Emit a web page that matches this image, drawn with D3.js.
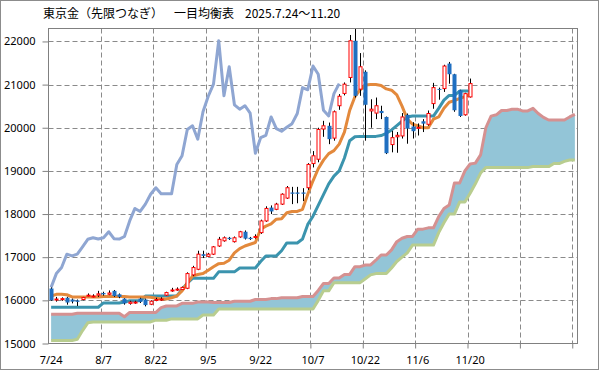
<!DOCTYPE html>
<html>
<head>
<meta charset="utf-8">
<script src="https://cdn.jsdelivr.net/npm/d3@7"></script>
<style>
  html, body { margin: 0; padding: 0; background: #fff; }
  svg { display: block; }
</style>
</head>
<body>
<svg id="chart" width="599" height="370"></svg>
<script>
// x labels, one every 10 trading days
const tickLabels = ['7/24', '8/7', '8/22', '9/5', '9/22', '10/7', '10/22', '11/6', '11/20'];

const opens = [
  16275, 16010, 16020, 16060, 16020, 16000, 16020, 16115, 16100, 16120,
  16170, 16140, 16220, 16140, 16040, 15930, 15940, 16040, 16020, 15910,
  16000, 16010, 16120, 16220, 16240, 16250, 16280, 16590, 16720, 17070,
  17020, 17070, 17260, 17380, 17450, 17360, 17470, 17590, 17450, 17460,
  17570, 17840, 18150, 18110, 18230, 18370, 18500, 18500, 18500, 18610,
  19170, 19270, 19970, 20045, 19760, 20510, 20795, 21165, 22016, 20895,
  21297, 20390, 20340, 20390, 20250, 19610, 19790, 19810, 20300, 20030,
  19990, 20150, 20080, 20560, 20900, 20907, 21487, 21240, 20870, 20300,
  20714
];
const highs = [
  16300, 16080, 16070, 16080, 16040, 16020, 16080, 16160, 16140, 16220,
  16200, 16230, 16240, 16160, 16050, 15990, 15990, 16060, 16040, 16000,
  16060, 16070, 16200, 16290, 16300, 16320, 16650, 16800, 17150, 17150,
  17100, 17260, 17470, 17480, 17470, 17480, 17610, 17620, 17470, 17530,
  17870, 18180, 18200, 18260, 18480, 18650, 18630, 18630, 18600, 19180,
  19460, 20000, 20160, 20120, 20400, 20780, 21050, 22150, 22300, 21730,
  21330, 20660, 20700, 20510, 20260, 19930, 19900, 20340, 20330, 20130,
  20100, 20200, 20400, 21040, 20930, 21460, 21525, 21250, 20880, 20810,
  21140
];
const lows = [
  15990, 15970, 15990, 15900, 15930, 15870, 16000, 16090, 16070, 16080,
  16110, 16120, 16080, 16050, 15900, 15900, 15920, 15940, 15860, 15890,
  15980, 15990, 16100, 16200, 16220, 16240, 16260, 16560, 16700, 16980,
  17000, 17050, 17240, 17360, 17400, 17340, 17450, 17410, 17400, 17430,
  17540, 17820, 18000, 18090, 18210, 18350, 18230, 18250, 18300, 18560,
  19080, 19200, 19790, 19620, 19700, 20415, 20750, 21050, 20700, 20740,
  19700, 20000, 20200, 20200, 19390, 19430, 19420, 19750, 19630, 19750,
  19820, 19900, 20050, 20440, 20650, 20830, 21020, 20370, 20250, 20280,
  20700
];
const closes = [
  16004, 16030, 16040, 15950, 15970, 15965, 16065, 16120, 16100, 16150,
  16140, 16170, 16100, 16080, 15930, 15960, 15960, 15965, 15890, 15980,
  16020, 16030, 16180, 16240, 16260, 16300, 16620, 16760, 17070, 17030,
  17070, 17240, 17415, 17450, 17420, 17450, 17590, 17430, 17420, 17480,
  17840, 18130, 18060, 18230, 18460, 18610, 18470, 18470, 18470, 19150,
  19350, 19960, 20045, 19735, 20370, 20730, 21010, 22016, 20740, 21413,
  20532, 20430, 20510, 20340, 19410, 19770, 19825, 20250, 19980, 19920,
  20010, 20095, 20330, 20930, 20880, 21430, 21240, 20405, 20273, 20790,
  21023
];

// 転換線
const tenkan = [
  16100, 16140, 16140, 16130, 16080, 16080, 16080, 16080, 16080, 16080,
  16090, 16090, 16090, 16090, 16090, 16080, 16080, 16080, 16080, 16070,
  16050, 16030, 16030, 16060, 16100, 16220, 16400, 16560, 16600, 16620,
  16700, 16780, 16850, 16860, 16930, 17100, 17200, 17260, 17300, 17340,
  17650, 17720, 17770, 17880, 17890, 18030, 18060, 18060, 18110, 18460,
  18770, 19050, 19250, 19400, 19470, 19620, 19900, 20400, 20720, 20880,
  20990, 21000, 21000, 20980, 20900, 20870, 20760, 20500, 20200, 20080,
  20050, 20000, 20000, 20200, 20250, 20450, 20590, 20630, 20680, 20720,
  20780
];
// 基準線
const kijun = [
  15840, 15840, 15840, 15840, 15840, 15840, 15840, 15840, 15840, 15840,
  15940, 15940, 15940, 15940, 15960, 15990, 15990, 15990, 16100, 16100,
  16100, 16100, 16100, 16100, 16100, 16250, 16400, 16510, 16510, 16510,
  16510, 16510, 16660, 16660, 16660, 16660, 16750, 16750, 16750, 16750,
  16900, 17030, 17030, 17030, 17150, 17330, 17330, 17330, 17420, 17760,
  17950, 18200, 18450, 18700, 18880, 19000, 19300, 19700, 19790, 19800,
  19800, 19800, 19800, 19820, 19870, 19950, 20050, 20150, 20250, 20270,
  20270, 20270, 20270, 20270, 20450, 20640, 20750, 20750, 20850, 20850,
  20850
];
// 先行スパン1
const senkouA = [
  15680, 15680, 15680, 15680, 15680, 15700, 15700, 15700, 15700, 15700,
  15700, 15700, 15700, 15700, 15620, 15720, 15720, 15720, 15720, 15720,
  15720, 15830, 15870, 15870, 15870, 15930, 15930, 15930, 15960, 15960,
  15960, 15950, 15950, 15950, 15950, 15980, 15980, 15980, 15980, 16020,
  16020, 16020, 16040, 16040, 16060, 16060, 16060, 16060, 16090, 16090,
  16090, 16230, 16390, 16390, 16520, 16520, 16600, 16600, 16780, 16780,
  16820, 16820, 16930, 17050, 17050, 17170, 17360, 17440, 17480, 17480,
  17650, 17650, 17680, 17680, 17940, 18130, 18210, 18720, 18720, 19000,
  19160, 19180, 19370, 20000, 20270, 20300, 20400, 20400, 20430, 20430,
  20390, 20390, 20450, 20330, 20240, 20180, 20180, 20180, 20180, 20250,
  20310
];
// 先行スパン2
const senkouB = [
  15070, 15070, 15070, 15070, 15070, 15100, 15300, 15480, 15500, 15500,
  15500, 15500, 15500, 15500, 15500, 15500, 15500, 15500, 15500, 15500,
  15540, 15540, 15540, 15570, 15570, 15570, 15570, 15570, 15570, 15660,
  15660, 15660, 15800, 15800, 15800, 15800, 15800, 15800, 15800, 15800,
  15800, 15800, 15800, 15800, 15800, 15800, 15800, 15800, 15800, 15800,
  15800, 16000, 16220, 16220, 16410, 16410, 16410, 16410, 16410, 16410,
  16500, 16590, 16620, 16620, 16620, 16750, 16900, 17000, 17100, 17280,
  17280, 17280, 17280, 17280, 17570, 17800, 18000, 18000, 18280, 18280,
  18480, 18700, 18950, 19076, 19076, 19076, 19076, 19076, 19076, 19076,
  19076, 19076, 19100, 19100, 19100, 19100, 19170, 19170, 19220, 19254,
  19254
];
// 遅行スパン: 終値を25本前にずらして描く
const chikouShift = 25;

const svg = d3.select('#chart');
const plotL = 48.5, plotR = 577.5, plotT = 28.5, plotB = 343.5;
const nSlots = senkouA.length;

const x = d3.scaleBand().domain(d3.range(nSlots)).range([plotL, plotR]);
const xEdge = d3.scaleLinear().domain([0, nSlots]).range([plotL, plotR]);
const cx = i => x(i) + x.bandwidth() / 2;
const y = d3.scaleLinear().domain([15000, 22300]).range([plotB, plotT]);

svg.append('rect')
  .attr('x', 0.5).attr('y', 0.5).attr('width', 598).attr('height', 369)
  .attr('fill', '#fff').attr('stroke', '#8c8c8c');

svg.append('defs').append('clipPath').attr('id', 'plot')
  .append('rect').attr('x', plotL).attr('y', plotT).attr('width', plotR - plotL).attr('height', plotB - plotT);

// grid
const grid = svg.append('g').attr('stroke', '#8a8a8a').attr('stroke-dasharray', '5,3');
grid.selectAll('line.h')
  .data(d3.range(16000, 22001, 1000))
  .join('line')
  .attr('class', 'h')
  .attr('x1', plotL).attr('x2', plotR)
  .attr('y1', d => Math.round(y(d)) + 0.5)
  .attr('y2', d => Math.round(y(d)) + 0.5);
grid.selectAll('line.v')
  .data(d3.range(10, nSlots, 10))
  .join('line')
  .attr('class', 'v')
  .attr('y1', plotT).attr('y2', plotB)
  .attr('x1', d => Math.round(xEdge(d)) + 0.5)
  .attr('x2', d => Math.round(xEdge(d)) + 0.5);

const plot = svg.append('g').attr('clip-path', 'url(#plot)');

// cloud
const cloud = senkouA.map((a, i) => ({ a, b: senkouB[i] }));
plot.append('path')
  .datum(cloud)
  .attr('fill', '#93c5d7')
  .attr('d', d3.area().x((d, i) => cx(i)).y0(d => y(d.b)).y1(d => y(d.a)));

const line = d3.line().x((d, i) => cx(i)).y(d => y(d));
const drawLine = (data, color) => plot.append('path')
  .datum(data)
  .attr('fill', 'none')
  .attr('stroke', color)
  .attr('stroke-width', 3)
  .attr('stroke-linejoin', 'round')
  .attr('d', line);

drawLine(senkouA, '#d59191');
drawLine(senkouB, '#b8cd8f');
drawLine(closes.slice(chikouShift), '#8fa6d2');
drawLine(kijun, '#3b94ae');
drawLine(tenkan, '#e3893c');

// candles
const candles = opens.map((o, i) => ({ i, o, h: highs[i], l: lows[i], c: closes[i] }));
const cg = plot.append('g').selectAll('g').data(candles).join('g');
cg.append('line')
  .attr('x1', d => Math.round(cx(d.i)) + 0.5)
  .attr('x2', d => Math.round(cx(d.i)) + 0.5)
  .attr('y1', d => y(d.h))
  .attr('y2', d => y(d.l))
  .attr('stroke', '#000');
cg.append('rect')
  .attr('x', d => d.c >= d.o ? Math.round(cx(d.i)) - 1 : Math.round(cx(d.i)) - 1.5)
  .attr('width', d => d.c >= d.o ? 3 : 4)
  .attr('y', d => Math.min(y(d.o), y(d.c)))
  .attr('height', d => Math.max(1, Math.abs(y(d.o) - y(d.c))))
  .attr('fill', d => d.c >= d.o ? '#fff' : '#1f6fc1')
  .attr('stroke', d => d.c >= d.o ? '#ff0000' : 'none')
  .attr('stroke-width', 1);

// frame
svg.append('rect')
  .attr('x', plotL).attr('y', plotT).attr('width', plotR - plotL).attr('height', plotB - plotT)
  .attr('fill', 'none').attr('stroke', '#808080');

// axes
const yAxis = svg.append('g')
  .attr('transform', `translate(${plotL},0)`)
  .call(d3.axisLeft(y).tickValues(d3.range(15000, 22001, 1000)).tickSize(6).tickPadding(7).tickFormat(d3.format('d')));
yAxis.select('.domain').remove();
yAxis.selectAll('line').attr('stroke', '#808080');
yAxis.selectAll('text').attr('font-family', '"Noto Sans", sans-serif').attr('font-size', 11).attr('fill', '#000');

const xTicks = svg.append('g')
  .attr('transform', `translate(0,${plotB})`)
  .call(d3.axisBottom(xEdge).tickValues(d3.range(10, nSlots, 10)).tickSize(5).tickFormat(''));
xTicks.select('.domain').remove();
xTicks.selectAll('line').attr('stroke', '#808080');

const xLabels = svg.append('g')
  .attr('transform', `translate(0,${plotB})`)
  .call(d3.axisBottom(x).tickValues(d3.range(0, opens.length, 10)).tickSize(0).tickPadding(13)
    .tickFormat(i => tickLabels[i / 10]));
xLabels.select('.domain').remove();
xLabels.selectAll('text').attr('font-family', '"Noto Sans", sans-serif').attr('font-size', 11).attr('fill', '#000');

// title
const title = svg.append('g')
  .attr('font-family', '"Noto Sans CJK JP", sans-serif')
  .attr('font-size', 12)
  .attr('fill', '#000');
title.append('text').attr('x', 43).attr('y', 18).text('東京金（先限つなぎ）');
title.append('text').attr('x', 174).attr('y', 18).text('一目均衡表');
title.append('text').attr('x', 245).attr('y', 18).text('2025.7.24～11.20');
</script>
</body>
</html>
